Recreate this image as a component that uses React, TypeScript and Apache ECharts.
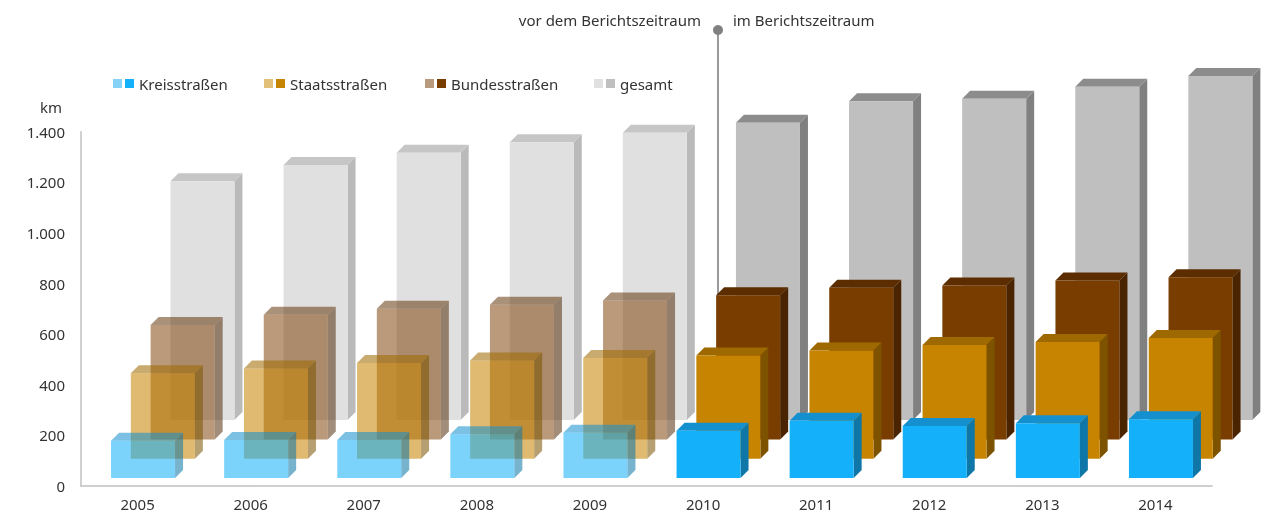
import React, { useEffect, useRef } from "react";
import * as echarts from "echarts";

const years = ["2005", "2006", "2007", "2008", "2009", "2010", "2011", "2012", "2013", "2014"];
const kreis = [147, 150, 150, 173, 179, 187, 226, 205, 216, 232];
const staats = [338, 356, 378, 388, 398, 408, 428, 449, 461, 477];
const bundes = [452, 493, 516, 532, 549, 570, 599, 608, 628, 641];
const gesamt = [944, 1008, 1056, 1098, 1135, 1175, 1260, 1270, 1317, 1360];
const yMin = 0;
const yMax = 1400;
const yStep = 200;
const firstReportIndex = 5; // 2010
const seriesNames = ["Kreisstraßen", "Staatsstraßen", "Bundesstraßen", "gesamt"];
const periodLabels = ["vor dem Berichtszeitraum", "im Berichtszeitraum"];

type Pal = { front: string; top: string; side: string; opacity: number };
const prePal: Pal[] = [
  { front: "#14b1fa", top: "#1590cf", side: "#0f77a8", opacity: 0.56 },
  { front: "#c68400", top: "#9e6900", side: "#7d5300", opacity: 0.56 },
  { front: "#7a3d00", top: "#5c2d00", side: "#4a2400", opacity: 0.52 },
  { front: "#e0e0e0", top: "#c6c6c6", side: "#bababa", opacity: 1 },
];
const postPal: Pal[] = [
  { front: "#14b1fa", top: "#1590cf", side: "#0f77a8", opacity: 1 },
  { front: "#c68400", top: "#9e6900", side: "#7d5300", opacity: 1 },
  { front: "#7a3d00", top: "#5c2d00", side: "#4a2400", opacity: 1 },
  { front: "#bfbfbf", top: "#8c8c8c", side: "#808080", opacity: 1 },
];
const legendSwatch = [
  ["#87d3f8", "#14b1fa"],
  ["#e2c07a", "#c68400"],
  ["#b89a7c", "#7a3d00"],
  ["#e0e0e0", "#bfbfbf"],
];

const fmt = (v: number) => String(v).replace(/\B(?=(\d{3})+(?!\d))/g, ".");
const FONT = "'Noto Sans', sans-serif";

function makeSeries(values: number[], k: number) {
  return {
    type: "custom",
    name: seriesNames[k],
    z: 2,
    clip: false,
    data: values.map((v, i) => [i, v]),
    encode: { x: 0, y: 1 },
    renderItem: (params: any, api: any) => {
      const i = api.value(0);
      const v = api.value(1);
      const base = api.coord([i, 0]);
      const top = api.coord([i, v]);
      const cw = api.size([1, 0])[0];
      const w = cw * 0.566;
      const ox = 5.5 + 19.8 * k;
      const oy = -8 - 19.3 * k;
      const d = 8;
      const x0 = base[0] - w / 2 + ox;
      const x1 = x0 + w;
      const yb = base[1] + oy;
      const yt = top[1] + oy;
      const p = i < firstReportIndex ? prePal[k] : postPal[k];
      return {
        type: "group",
        children: [
          {
            type: "polygon",
            shape: { points: [[x1, yt], [x1 + d, yt - d], [x1 + d, yb - d], [x1, yb]] },
            style: { fill: p.side, opacity: p.opacity },
          },
          {
            type: "polygon",
            shape: { points: [[x0, yt], [x0 + d, yt - d], [x1 + d, yt - d], [x1, yt]] },
            style: { fill: p.top, opacity: p.opacity },
          },
          {
            type: "rect",
            shape: { x: x0, y: yt, width: w, height: yb - yt },
            style: { fill: p.front, opacity: p.opacity },
          },
        ],
      };
    },
  };
}

export default function App() {
  const ref = useRef<HTMLDivElement>(null);
  useEffect(() => {
    if (!ref.current) return;
    const chart = echarts.init(ref.current, undefined, { renderer: "svg" });
    const legendX = [113, 264, 425, 594];
    const legendEls: any[] = [];
    seriesNames.forEach((n, k) => {
      const x = legendX[k];
      legendEls.push({ type: "rect", left: x, top: 79, shape: { width: 9, height: 9 }, style: { fill: legendSwatch[k][0] } });
      legendEls.push({ type: "rect", left: x + 12, top: 79, shape: { width: 9, height: 9 }, style: { fill: legendSwatch[k][1] } });
      legendEls.push({
        type: "text",
        x: x + 26,
        y: 84,
        style: { text: n, fill: "#333", font: `15px ${FONT}`, textVerticalAlign: "middle", verticalAlign: "middle" },
      });
    });
    chart.setOption({
      animation: false,
      grid: { left: 81, right: 60, top: 131.7, bottom: 29, containLabel: false },
      xAxis: {
        type: "category",
        data: years,
        axisTick: { show: false },
        axisLine: { lineStyle: { color: "#c0c0c0", width: 1.5 } },
        axisLabel: { color: "#333", fontSize: 15, fontFamily: FONT, margin: 10 },
        splitLine: { show: false },
      },
      yAxis: {
        type: "value",
        min: yMin,
        max: yMax,
        interval: yStep,
        axisLine: { show: true, lineStyle: { color: "#c0c0c0", width: 1.5 } },
        axisTick: { show: false },
        splitLine: { show: false },
        axisLabel: { color: "#333", fontSize: 15, fontFamily: FONT, margin: 16, formatter: (v: number) => fmt(v) },
      },
      graphic: {
        elements: [
          {
            type: "line",
            z: 1,
            shape: { x1: 718, y1: 30, x2: 718, y2: 440 },
            style: { stroke: "#9a9a9a", lineWidth: 2 },
          },
          { type: "circle", z: 1, shape: { cx: 718, cy: 30, r: 5 }, style: { fill: "#808080" } },
          {
            type: "text",
            x: 701,
            y: 20,
            style: { text: periodLabels[0], fill: "#333", font: `15px ${FONT}`, align: "right", textAlign: "right", verticalAlign: "middle", textVerticalAlign: "middle" },
          },
          {
            type: "text",
            x: 733,
            y: 20,
            style: { text: periodLabels[1], fill: "#333", font: `15px ${FONT}`, verticalAlign: "middle", textVerticalAlign: "middle" },
          },
          {
            type: "text",
            x: 51,
            y: 107,
            style: { text: "km", fill: "#333", font: `15px ${FONT}`, align: "center", textAlign: "center", verticalAlign: "middle", textVerticalAlign: "middle" },
          },
          ...legendEls,
        ],
      },
      series: [makeSeries(gesamt, 3), makeSeries(bundes, 2), makeSeries(staats, 1), makeSeries(kreis, 0)],
    });
    return () => chart.dispose();
  }, []);
  return <div ref={ref} style={{ position: "fixed", left: 0, top: 0, width: 1272, height: 515 }} />;
}
